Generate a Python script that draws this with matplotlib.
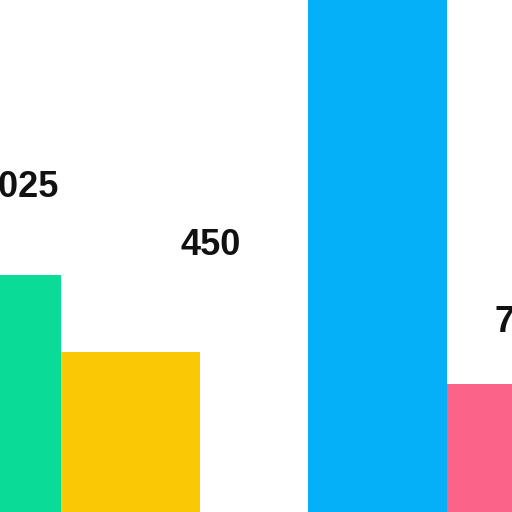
import matplotlib
matplotlib.use("Agg")
import matplotlib.pyplot as plt

# Data
categories = ["A", "B", "C", "D"]
values = [463, 313, 1100, 250]
labels = ["1025", "450", "", "77"]
colors = ["#0ADB96", "#F9C906", "#06B0F8", "#FB6389"]

# Layout (positions / styles)
group_centers = [0.5, 3.28]
offsets = [-0.5, 0.5]
xs = [g + o for g in group_centers for o in offsets]
label_x = [0.49, 1.58, None, 3.62]
label_y = [633, 520, None, 371]
label_ha = ["right", "center", "center", "left"]

fig = plt.figure(figsize=(5.12, 5.12), dpi=100)
ax = fig.add_axes([0, 0, 1, 1])
ax.bar(xs, values, width=1.0, color=colors, linewidth=0)
for lx, ly, t, ha in zip(label_x, label_y, labels, label_ha):
    if t:
        ax.text(lx, ly, t, ha=ha, va="center", fontsize=26, fontweight="bold",
                family=["Liberation Sans", "DejaVu Sans"], color="#111111")
ax.set_xlim(0.061, 3.745)
ax.set_ylim(0, 1000)
ax.axis("off")
fig.savefig("out.png", dpi=100, facecolor="white")
